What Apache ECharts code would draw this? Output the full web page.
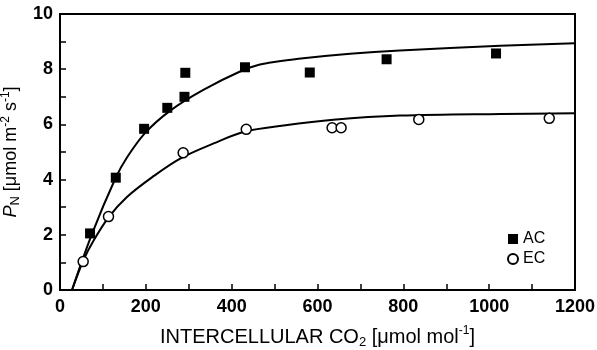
<!DOCTYPE html>
<html>
<head>
<meta charset="utf-8">
<script src="https://cdn.jsdelivr.net/npm/echarts@6/dist/echarts.min.js"></script>
<style>
  html, body { margin: 0; padding: 0; background: #fff; }
  #chart { width: 597px; height: 350px; }
</style>
</head>
<body>
<div id="chart"></div>
<script>
// measured points (Ci, PN)
const acPoints = [[70, 2.05], [130, 4.07], [196, 5.84], [250, 6.6], [290, 7.0], [292, 7.87],
  [431, 8.07], [582, 7.88], [761, 8.36], [1016, 8.57]];
const ecPoints = [[54, 1.03], [113, 2.66], [287, 4.97], [434, 5.82], [634, 5.88], [655, 5.88],
  [836, 6.18], [1140, 6.22]];

// fitted curves
const acCurve = [[28, 0], [75, 2.05], [129, 4.04], [156, 4.8], [199, 5.7], [257, 6.5],
  [334, 7.25], [427, 7.97], [466, 8.17], [490, 8.24], [556, 8.38], [676, 8.56], [792, 8.68],
  [1026, 8.85], [1200, 8.94]];
const ecCurve = [[28, 0], [55, 1.09], [79, 1.81], [114, 2.65], [156, 3.37], [215, 4.09],
  [281, 4.77], [358, 5.31], [431, 5.74], [521, 5.96], [637, 6.17], [792, 6.32], [1026, 6.38],
  [1200, 6.4]];

const legendNames = ["AC", "EC"];

const FONT = "'Liberation Sans', Arial, sans-serif";

const chart = echarts.init(document.getElementById("chart"), null, { renderer: "canvas" });

function nameRich(size) {
  return {
    n: { fontSize: size, lineHeight: size + 4, fontFamily: FONT, color: "#000" },
    i: { fontSize: size, lineHeight: size + 4, fontFamily: FONT, fontStyle: "italic", color: "#000" },
    sup: { fontSize: 12, lineHeight: 11, verticalAlign: "top", fontFamily: FONT, color: "#000" },
    sub: { fontSize: 13, lineHeight: 6, verticalAlign: "bottom", fontFamily: FONT, color: "#000" }
  };
}

chart.setOption({
  animation: false,
  backgroundColor: "#fff",
  grid: {
    left: 60,
    right: 22,
    top: 14,
    bottom: 60,
    outerBoundsMode: "none",
    containLabel: false,
    show: true,
    borderColor: "#000",
    borderWidth: 2
  },
  legend: {
    data: legendNames,
    orient: "vertical",
    left: 502,
    top: 226,
    itemWidth: 10,
    itemHeight: 10,
    itemGap: 4,
    textStyle: { fontSize: 16, fontFamily: FONT, color: "#000" }
  },
  xAxis: {
    type: "value",
    min: 0,
    max: 1200,
    interval: 200,
    name: "{n|INTERCELLULAR CO}{sub|2}{n| [μmol mol}{sup|-1}{n|]}",
    nameLocation: "middle",
    nameGap: 35,
    nameTextStyle: { rich: nameRich(20) },
    axisLine: { show: true, lineStyle: { color: "#000", width: 2 } },
    axisTick: { show: true, inside: true, length: 6, lineStyle: { color: "#000", width: 1.5 } },
    minorTick: { show: true, splitNumber: 2, length: 6, lineStyle: { color: "#000", width: 1.5 } },
    splitLine: { show: false },
    axisLabel: {
      fontSize: 18, fontWeight: "bold", fontFamily: FONT, color: "#000", margin: 8,
      formatter: (v) => String(v)
    }
  },
  yAxis: {
    type: "value",
    min: 0,
    max: 10,
    interval: 2,
    name: "{i|P}{sub|N}{n| [μmol m}{sup|-2}{n| s}{sup|-1}{n|]}",
    nameLocation: "middle",
    nameGap: 38,
    nameTextStyle: { rich: nameRich(18) },
    axisLine: { show: true, lineStyle: { color: "#000", width: 2 } },
    axisTick: { show: true, inside: true, length: 6, lineStyle: { color: "#000", width: 1.5 } },
    minorTick: { show: true, splitNumber: 2, length: 6, lineStyle: { color: "#000", width: 1.5 } },
    splitLine: { show: false },
    axisLabel: { fontSize: 18, fontWeight: "bold", fontFamily: FONT, color: "#000", margin: 7 }
  },
  series: [
    {
      name: "AC fit",
      type: "line",
      data: acCurve,
      smooth: 0.35,
      showSymbol: false,
      lineStyle: { color: "#000", width: 2 },
      z: 2
    },
    {
      name: "EC fit",
      type: "line",
      data: ecCurve,
      smooth: 0.35,
      showSymbol: false,
      lineStyle: { color: "#000", width: 2 },
      z: 2
    },
    {
      name: "AC",
      type: "scatter",
      data: acPoints,
      symbol: "rect",
      symbolSize: 10,
      itemStyle: { color: "#000", opacity: 1 },
      z: 3
    },
    {
      name: "EC",
      type: "scatter",
      data: ecPoints,
      symbol: "circle",
      symbolSize: 10,
      itemStyle: { color: "#fff", borderColor: "#000", borderWidth: 1.5, opacity: 1 },
      z: 3
    }
  ]
});
</script>
</body>
</html>
